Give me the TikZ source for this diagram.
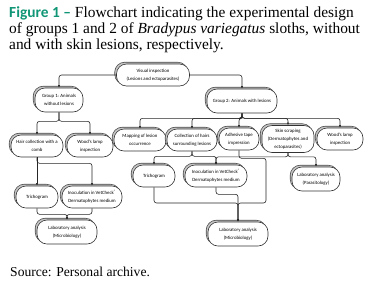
\documentclass[tikz,border=0pt]{standalone}
\usepackage{fontspec}
\setmainfont{Liberation Serif}
\newfontfamily\nodefont{Carlito}
\newfontfamily\labelfont{Carlito}
\usetikzlibrary{shadows,arrows.meta}
\definecolor{figgreen}{RGB}{16,150,118}
\begin{document}
\begin{tikzpicture}[x=1pt,y=-1pt,
  box/.style={draw=black!80, fill=white, rounded corners=10pt, minimum height=22pt,
    align=center, inner sep=1pt, line width=0.6pt,
    font=\nodefont\fontsize{4.8}{7.8}\selectfont,
    copy shadow={shadow xshift=-1.8pt, shadow yshift=1.8pt, fill=gray!45, draw=black!70}},
  link/.style={draw=black!85, line width=0.6pt, rounded corners=2.5pt,
    -{Latex[length=2.6pt,width=2.2pt]}},
  capline/.style={anchor=base west, inner sep=0pt, font=\fontsize{15.4}{16}\selectfont}]
\useasboundingbox (0,0) rectangle (377,285);
% caption
\node[capline] (cap1) at (9,17) {{\labelfont\bfseries\color{figgreen}Figure 1 –} Flowchart indicating the experimental design};
\node[capline] (cap2) at (9,33) {of groups 1 and 2 of \textit{Bradypus variegatus} sloths, without};
\node[capline] (cap3) at (9,49) {and with skin lesions, respectively.};
% boxes
\node[box, minimum width=73pt] (vis) at (153,75) {Visual inspection\\(Lesions and ectoparasites)};
\node[box, minimum width=48pt, minimum height=24pt] (g1) at (59,100) {Group 1: Animals\\without lesions};
\node[box, minimum width=70pt, minimum height=24pt] (g2) at (242,101) {Group 2: Animals with lesions};
\node[box, minimum width=52pt] (hair) at (37,146) {Hair collection with a\\comb};
\node[box, minimum width=46pt] (woodA) at (90,146) {Wood’s lamp\\inspection};
\node[box, minimum width=52pt] (map) at (140,140) {Mapping of lesion\\occurrence};
\node[box, minimum width=50pt] (coll) at (192,140) {Collection of hairs\\surrounding lesions};
\node[box, minimum width=40pt] (tape) at (239,139) {Adhesive tape\\impression};
\node[box, minimum width=52pt, minimum height=27pt] (skin) at (288,139) {Skin scraping\\(Dermatophytes and\\ectoparasites)};
\node[box, minimum width=46pt] (woodB) at (340,139) {Wood’s lamp\\inspection};
\node[box, minimum width=42pt] (tri1) at (37,197) {Trichogram};
\node[box, minimum width=60pt] (inoc1) at (92,197) {Inoculation in VetCheck\textsuperscript{®}\\Dermatophytes medium};
\node[box, minimum width=60pt, minimum height=24pt] (lab1) at (67,232) {Laboratory analysis\\(Microbiology)};
\node[box, minimum width=42pt] (tri2) at (154,176) {Trichogram};
\node[box, minimum width=62pt] (inoc2) at (216,176) {Inoculation in VetCheck\textsuperscript{®}\\Dermatophytes medium};
\node[box, minimum width=48pt, minimum height=24pt] (para) at (316,179) {Laboratory analysis\\(Parasitology)};
\node[box, minimum width=60pt, minimum height=24pt] (lab2) at (238,234) {Laboratory analysis\\(Microbiology)};
\coordinate (tapeR) at (266,203);
\coordinate (mB) at (238,203);
% connectors
\draw[link] (vis.west) -| (g1.north);
\draw[link] (vis.east) -| (g2.north);
\draw[link] (g1.south) -- ++(0,9) -| (hair.north);
\draw[link] (g1.south) -- ++(0,9) -| (woodA.north);
\foreach \n in {map,coll,tape,skin,woodB}
  \draw[link] (g2.south) -- ++(0,5) -| (\n.north);
\draw[link] (hair.south) -- (tri1.north);
\draw[link] (hair.south) -- ++(0,6) -| (inoc1.north);
\draw[link] (tri1.south) -- ++(0,6) -| (lab1.north);
\draw[link] (inoc1.south) -- ++(0,6) -| (lab1.north);
\draw[link] (coll.south) -- ++(0,5) -| (tri2.north);
\draw[link] (coll.south) -- ++(0,5) -| (inoc2.north);
\draw[link] (skin.south) -- ++(0,4) -| (inoc2.north);
\draw[link] (skin.south) -- ++(0,4) -| (para.north);
\draw[link] (tape.south) -- ++(0,8) -| (tapeR) -| (lab2.north);
\draw[link] (tri2.south) |- (mB) -- (lab2.north);
\draw[link] (inoc2.south) -- ++(0,7) -| (mB) -- (lab2.north);
% source
\node[capline, font=\fontsize{13.6}{15}\selectfont] (src) at (10,276) {Source: Personal archive.};
\end{tikzpicture}
\end{document}
